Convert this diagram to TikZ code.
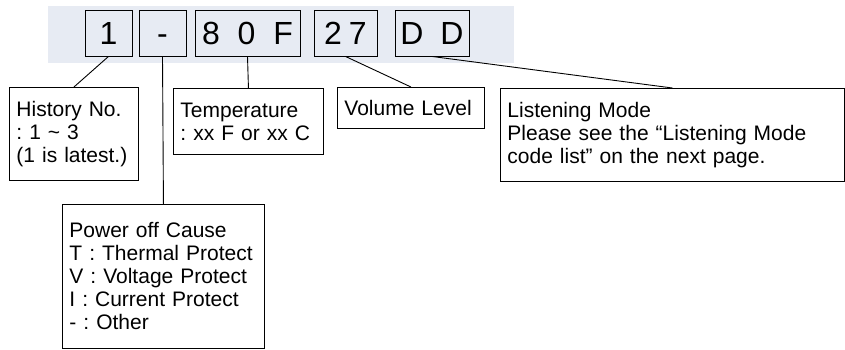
\documentclass[tikz,border=0pt]{standalone}
\usepackage{fontspec}
\setmainfont{Liberation Sans}
\usepackage{tikz}
\usepackage{xcolor}
\frenchspacing
\definecolor{bandgray}{HTML}{E7EBF3}
\newcommand{\codefont}{\fontsize{32}{38}\selectfont}
\newcommand{\notefont}{\fontsize{21}{23}\selectfont}
\tikzset{%
	code box/.style={
		draw,
		line width=0.9pt,
		minimum height=46pt,
		inner sep=0pt,
		text height=23pt,
		text depth=0pt,
		font=\codefont
	},
	note box/.style={
		draw,
		line width=0.9pt,
		anchor=north west,
		align=left,
		inner xsep=7pt,
		inner ysep=0pt,
		font=\notefont
	},
}
\begin{document}
\begin{tikzpicture}[
				x=1pt, y=-1pt,
				every path/.style={line width=0.9pt}
				]
				\useasboundingbox (0,0) rectangle (845,349);
				\fill[bandgray] (48,6) rectangle (514,63);
				
				% code fields
				\node[code box, minimum width=47pt] (hist code) at (108.5,33) {1};
				\node[code box, minimum width=47pt] (cause code) at (162.5,33) {-};
				\node[code box, minimum width=105pt] (temp code) at (247.5,33) {8\hspace{9pt} 0\hspace{9pt} F};
				\node[code box, minimum width=63pt] (vol code) at (345.5,33) {2\hspace{7pt}7};
				\node[code box, minimum width=74pt] (mode code) at (432,33) {D\hspace{8pt} D};
				
				% explanations
				\node[note box, text width=115pt, minimum height=93pt] (hist) at (9,87)
					{History No.\\: 1 \textasciitilde{} 3\\(1 is latest.)};
				\node[note box, text width=136pt, minimum height=66pt] (temp) at (173,88)
					{Temperature\\: xx F or xx C};
				\node[note box, text width=133pt, minimum height=41pt] (vol) at (337,87)
					{Volume Level};
				\node[note box, text width=330pt, minimum height=93pt] (mode) at (500,88)
					{Listening Mode\\Please see the “Listening Mode\\code list” on the next page.};
				\node[note box, text width=188pt, minimum height=144pt] (cause) at (62,204)
					{Power off Cause\\T : Thermal Protect\\V : Voltage Protect\\I : Current Protect\\- : Other\\[8pt]};
				
				\draw (hist code.south) -- (hist.north);
				\draw (cause code.south) -- (cause.north);
				\draw (temp code.south) -- (temp.north);
				\draw (vol code.south) -- (vol.north);
				\draw (mode code.south) -- (mode.north);
				
			\end{tikzpicture}
\end{document}
